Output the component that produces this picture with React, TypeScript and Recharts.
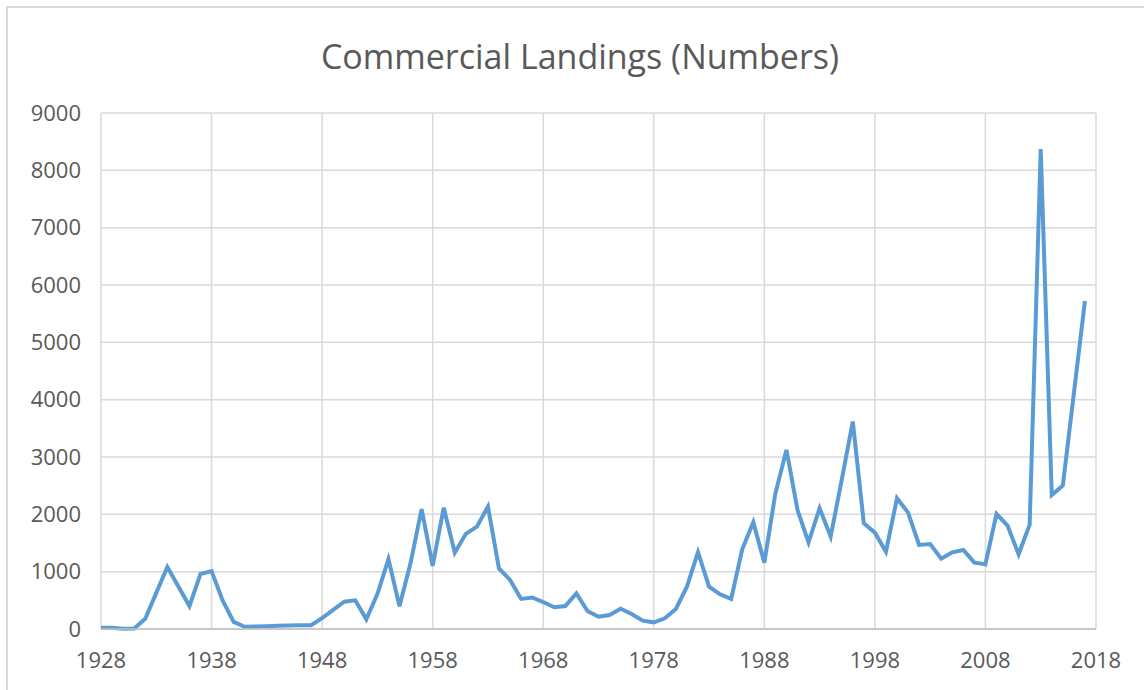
import { LineChart, Line, XAxis, YAxis, CartesianGrid } from 'recharts';

// yearly landings
const years = [
  1928, 1929, 1930, 1931, 1932, 1933, 1934, 1935, 1936, 1937,
  1938, 1939, 1940, 1941, 1942, 1943, 1944, 1945, 1946, 1947,
  1948, 1949, 1950, 1951, 1952, 1953, 1954, 1955, 1956, 1957,
  1958, 1959, 1960, 1961, 1962, 1963, 1964, 1965, 1966, 1967,
  1968, 1969, 1970, 1971, 1972, 1973, 1974, 1975, 1976, 1977,
  1978, 1979, 1980, 1981, 1982, 1983, 1984, 1985, 1986, 1987,
  1988, 1989, 1990, 1991, 1992, 1993, 1994, 1995, 1996, 1997,
  1998, 1999, 2000, 2001, 2002, 2003, 2004, 2005, 2006, 2007,
  2008, 2009, 2010, 2011, 2012, 2013, 2014, 2015, 2016, 2017,
];

const landings = [
  20, 20, 5, 10, 180, 630, 1080, 740, 400, 960,
  1010, 500, 125, 40, 45, 50, 55, 60, 65, 65,
  190, 335, 477, 500, 170, 610, 1220, 395, 1150, 2090,
  1100, 2115, 1330, 1660, 1785, 2135, 1055, 855, 525, 550,
  470, 380, 400, 620, 314, 215, 244, 355, 262, 146,
  116, 186, 350, 739, 1340, 739, 605, 524, 1390, 1862,
  1158, 2367, 3124, 2077, 1512, 2106, 1611, 2600, 3618, 1844,
  1681, 1349, 2281, 2030, 1466, 1483, 1227, 1338, 1379, 1157,
  1129, 2007, 1803, 1303, 1820, 8370, 2336, 2501, 4110, 5720,
];

const xTicks = [1928, 1938, 1948, 1958, 1968, 1978, 1988, 1998, 2008, 2018];
const yTicks = [0, 1000, 2000, 3000, 4000, 5000, 6000, 7000, 8000, 9000];

const data = years.map((year, i) => ({ year, value: landings[i] }));

const font = "'Open Sans', 'Noto Sans', sans-serif";
const tickStyle = { fill: '#595959', fontSize: 22, fontFamily: font };

export default function App() {
  return (
    <div style={{ position: 'absolute', left: 0, top: 0, width: 1144, height: 690, overflow: 'hidden', background: '#fff' }}>
      <div style={{ position: 'absolute', left: 6, top: 6, width: 1160, height: 720, border: '2px solid #d9d9d9', boxSizing: 'border-box' }} />
      <div style={{
        position: 'absolute', left: 0, top: 33, width: 1160, textAlign: 'center',
        fontFamily: font, fontSize: 34, color: '#595959', lineHeight: '46px',
      }}>
        Commercial Landings (Numbers)
      </div>
      <LineChart width={1144} height={690} data={data} margin={{ top: 113, right: 48, bottom: 0, left: 21 }}
        style={{ position: 'absolute', left: 0, top: 0 }}>
        <CartesianGrid stroke="#d9d9d9" strokeWidth={1.5} />
        <XAxis dataKey="year" type="number" domain={[1928, 2018]} ticks={xTicks} interval={0}
          height={61} tickLine={false} tickSize={0} tickMargin={23}
          axisLine={{ stroke: '#bfbfbf', strokeWidth: 1.5 }} tick={tickStyle} />
        <YAxis type="number" domain={[0, 9000]} ticks={yTicks} interval={0} width={80}
          tickLine={false} axisLine={false} tickSize={0} tickMargin={20} tick={tickStyle} />
        <Line type="linear" dataKey="value" stroke="#5b9bd5" strokeWidth={4} dot={false}
          isAnimationActive={false} />
      </LineChart>
    </div>
  );
}
